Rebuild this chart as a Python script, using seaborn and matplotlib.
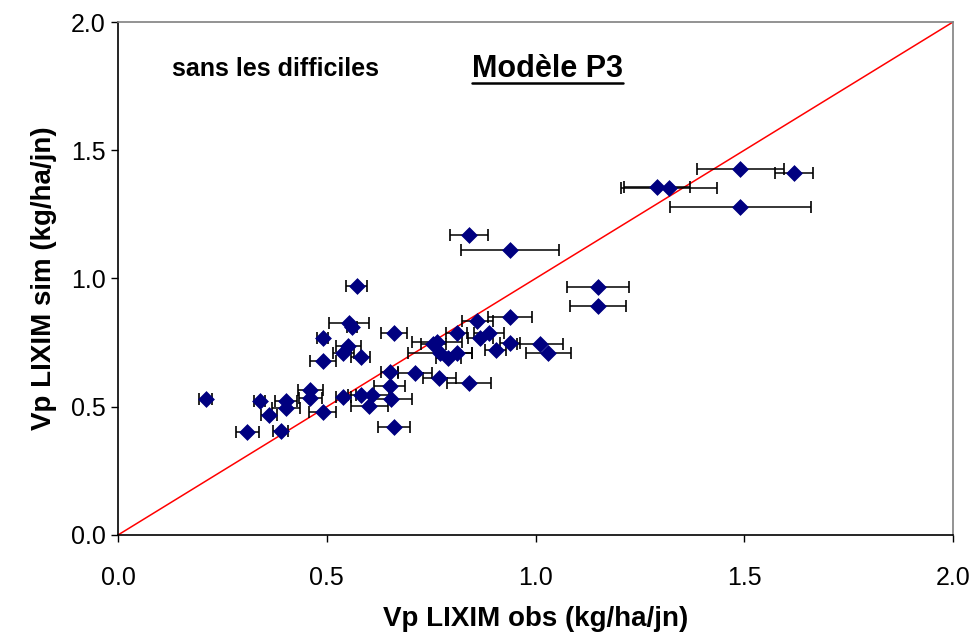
import numpy as np
import pandas as pd
import matplotlib
matplotlib.use("Agg")
import matplotlib.pyplot as plt
import seaborn as sns

# Observed (x), simulated (y), and x error half-widths
obs = [0.210, 0.310, 0.339, 0.361, 0.390, 0.402, 0.402, 0.461, 0.461, 0.490,
       0.490, 0.490, 0.540, 0.540, 0.552, 0.553, 0.561, 0.572, 0.581, 0.581,
       0.609, 0.602, 0.651, 0.651, 0.653, 0.661, 0.661, 0.711, 0.770, 0.841,
       0.763, 0.771, 0.791, 0.811, 0.811, 0.861, 0.868, 0.889, 0.905, 0.939,
       0.939, 1.010, 1.031, 0.841, 0.939, 1.150, 1.150, 1.291, 1.320, 1.491,
       1.619, 1.491, 0.755]
sim = [0.530, 0.400, 0.522, 0.468, 0.407, 0.524, 0.494, 0.565, 0.535, 0.481,
       0.767, 0.680, 0.537, 0.708, 0.737, 0.828, 0.810, 0.971, 0.693, 0.546,
       0.546, 0.503, 0.634, 0.581, 0.529, 0.422, 0.789, 0.632, 0.611, 0.594,
       0.754, 0.711, 0.689, 0.708, 0.789, 0.835, 0.767, 0.789, 0.721, 0.849,
       0.747, 0.743, 0.708, 1.170, 1.111, 0.966, 0.893, 1.358, 1.351, 1.427,
       1.413, 1.278, 0.745]
err = [0.015, 0.027, 0.014, 0.019, 0.018, 0.027, 0.033, 0.029, 0.027, 0.033,
       0.014, 0.031, 0.017, 0.025, 0.030, 0.047, 0.012, 0.025, 0.022, 0.030,
       0.040, 0.045, 0.020, 0.037, 0.050, 0.039, 0.032, 0.040, 0.040, 0.052,
       0.060, 0.077, 0.030, 0.038, 0.025, 0.037, 0.030, 0.036, 0.025, 0.053,
       0.024, 0.055, 0.054, 0.045, 0.117, 0.074, 0.067, 0.080, 0.115, 0.104,
       0.046, 0.170, 0.030]

line_x = [0.0, 2.0]
line_y = [0.0, 2.0]
ticks = [0.0, 0.5, 1.0, 1.5, 2.0]
tick_labels = ["0.0", "0.5", "1.0", "1.5", "2.0"]

df = pd.DataFrame({"obs": obs, "sim": sim, "err": err})

sns.set_style("white")
plt.rcParams["font.family"] = ["Liberation Sans", "DejaVu Sans"]
plt.rcParams["text.color"] = "black"
plt.rcParams["axes.labelcolor"] = "black"
plt.rcParams["xtick.color"] = "black"
plt.rcParams["ytick.color"] = "black"

fig = plt.figure(figsize=(9.78, 6.44), dpi=100)
ax = fig.add_axes([0.1207, 0.1693, 0.9744 - 0.1207, 0.9658 - 0.1693])

ax.plot(line_x, line_y, color="#ff0000", lw=1.1, zorder=1)
ax.errorbar(df["obs"], df["sim"], xerr=df["err"], fmt="none", ecolor="black",
            elinewidth=1.1, capsize=4.5, capthick=1.2, zorder=2)
sns.scatterplot(data=df, x="obs", y="sim", marker="D", s=65, color="#000080",
                edgecolor="#000080", linewidth=0.5, ax=ax, zorder=3)

ax.set_xlim(0, 2)
ax.set_ylim(0, 2)
ax.set_xticks(ticks)
ax.set_xticklabels(tick_labels)
ax.set_yticks(ticks)
ax.set_yticklabels(tick_labels)
ax.tick_params(axis="both", which="major", labelsize=18, direction="out",
               length=5, width=1, color="black", labelcolor="black",
               bottom=True, left=True)
ax.tick_params(axis="x", pad=17)
ax.tick_params(axis="y", pad=4)

for s in ["left", "bottom"]:
    ax.spines[s].set_color("black")
    ax.spines[s].set_linewidth(1.2)
for s in ["top", "right"]:
    ax.spines[s].set_color("#808080")
    ax.spines[s].set_linewidth(1.2)

ax.set_xlabel("Vp LIXIM obs (kg/ha/jn)", fontsize=20, fontweight="bold",
              labelpad=12, color="black")
ax.set_ylabel("Vp LIXIM sim (kg/ha/jn)", fontsize=20, fontweight="bold",
              labelpad=10, color="black")

ax.text(0.13, 1.815, "sans les difficiles", fontsize=18, fontweight="bold",
        ha="left", va="center", color="black")
t = ax.text(0.848, 1.815, "Modèle P3", fontsize=22, fontweight="bold",
            ha="left", va="center", color="black")
# underline
fig.canvas.draw()
bb = t.get_window_extent()
inv = ax.transData.inverted()
(x0, y0), (x1, _) = inv.transform([(bb.x0, bb.y0 + 1), (bb.x1, bb.y0)])
ax.plot([x0, x1], [y0, y0], color="black", lw=1.8, clip_on=False)

fig.savefig("out.png", dpi=100)
